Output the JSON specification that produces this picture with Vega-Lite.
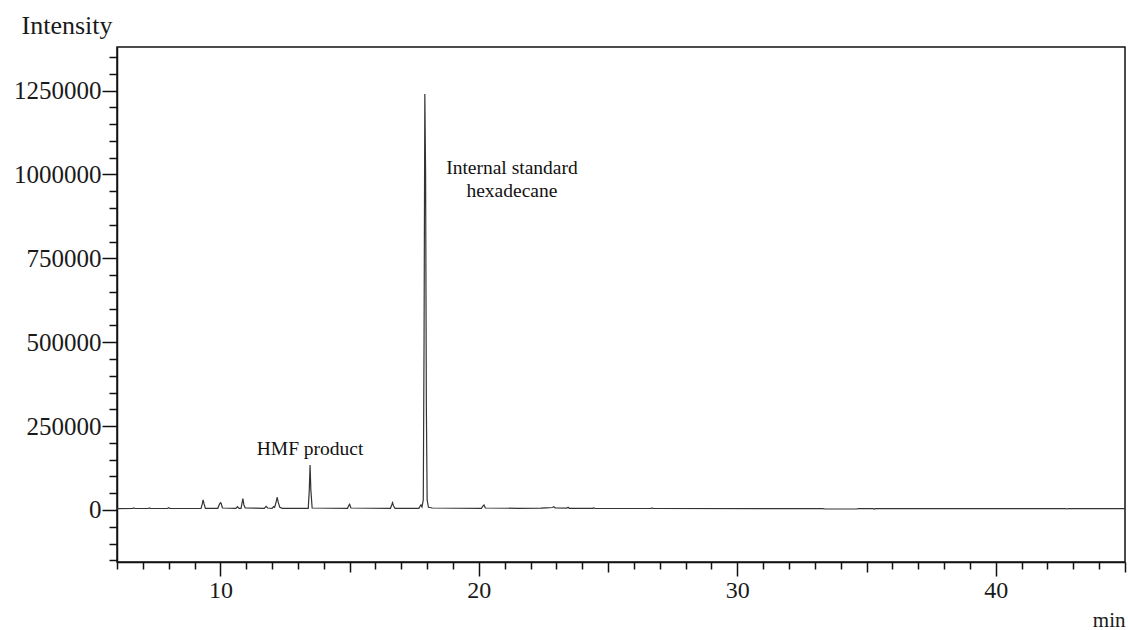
{
  "$schema": "https://vega.github.io/schema/vega-lite/v6.json",
  "width": 1008,
  "height": 515,
  "autosize": {"type": "none"},
  "padding": {"left": 117, "top": 47, "right": 3, "bottom": 68},
  "background": "white",
  "config": {
    "view": {"stroke": "#111", "strokeWidth": 1.5},
    "axis": {"grid": false, "labelFont": "Liberation Serif", "titleFont": "Liberation Serif", "labelColor": "#1a1a1a", "titleColor": "#1a1a1a", "tickColor": "#111", "domainColor": "#111", "domainWidth": 1.5, "tickWidth": 1.5, "titleFontWeight": "normal"}
  },
  "datasets": {
    "chrom": [
      {"t": 6.0, "i": 4000}, {"t": 6.6, "i": 4500}, {"t": 6.65, "i": 6000}, {"t": 6.7, "i": 4500},
      {"t": 7.2, "i": 4500}, {"t": 7.25, "i": 6000}, {"t": 7.3, "i": 4500},
      {"t": 7.95, "i": 4500}, {"t": 8.0, "i": 7000}, {"t": 8.05, "i": 4500},
      {"t": 9.25, "i": 4500}, {"t": 9.3, "i": 18000}, {"t": 9.33, "i": 30000}, {"t": 9.37, "i": 18000}, {"t": 9.42, "i": 5000},
      {"t": 9.9, "i": 5000}, {"t": 9.95, "i": 15000}, {"t": 10.0, "i": 22000}, {"t": 10.03, "i": 20000}, {"t": 10.08, "i": 6000},
      {"t": 10.6, "i": 5000}, {"t": 10.66, "i": 10000}, {"t": 10.72, "i": 5000},
      {"t": 10.8, "i": 5000}, {"t": 10.84, "i": 22000}, {"t": 10.87, "i": 34000}, {"t": 10.91, "i": 15000}, {"t": 10.96, "i": 6000},
      {"t": 11.7, "i": 5000}, {"t": 11.77, "i": 11000}, {"t": 11.83, "i": 6000},
      {"t": 12.0, "i": 5000}, {"t": 12.06, "i": 10000}, {"t": 12.1, "i": 8000}, {"t": 12.16, "i": 25000}, {"t": 12.2, "i": 38000}, {"t": 12.24, "i": 22000}, {"t": 12.3, "i": 8000}, {"t": 12.4, "i": 5000},
      {"t": 13.4, "i": 5000}, {"t": 13.44, "i": 60000}, {"t": 13.47, "i": 134000}, {"t": 13.5, "i": 60000}, {"t": 13.55, "i": 6000},
      {"t": 14.92, "i": 5000}, {"t": 14.97, "i": 14000}, {"t": 15.0, "i": 17000}, {"t": 15.05, "i": 6000},
      {"t": 16.58, "i": 5000}, {"t": 16.63, "i": 15000}, {"t": 16.66, "i": 22000}, {"t": 16.7, "i": 12000}, {"t": 16.76, "i": 5000},
      {"t": 17.68, "i": 5000}, {"t": 17.73, "i": 12000}, {"t": 17.76, "i": 15000}, {"t": 17.8, "i": 9000}, {"t": 17.85, "i": 30000}, {"t": 17.88, "i": 500000}, {"t": 17.91, "i": 1240000}, {"t": 17.94, "i": 1000000}, {"t": 17.97, "i": 300000}, {"t": 18.0, "i": 30000}, {"t": 18.05, "i": 8000}, {"t": 18.2, "i": 6000},
      {"t": 20.1, "i": 5000}, {"t": 20.17, "i": 13000}, {"t": 20.2, "i": 15000}, {"t": 20.25, "i": 6000},
      {"t": 21.5, "i": 5000}, {"t": 22.4, "i": 5500}, {"t": 22.6, "i": 6500}, {"t": 22.85, "i": 7500}, {"t": 22.9, "i": 10000}, {"t": 22.95, "i": 6500},
      {"t": 23.4, "i": 5500}, {"t": 23.45, "i": 8000}, {"t": 23.5, "i": 5000},
      {"t": 24.4, "i": 5000}, {"t": 24.45, "i": 6500}, {"t": 24.5, "i": 4500},
      {"t": 26.65, "i": 4500}, {"t": 26.7, "i": 6000}, {"t": 26.75, "i": 4500},
      {"t": 31.8, "i": 4000}, {"t": 32.0, "i": 4500}, {"t": 33.3, "i": 4000}, {"t": 33.4, "i": 3000}, {"t": 34.6, "i": 3000}, {"t": 34.7, "i": 4000},
      {"t": 35.25, "i": 4000}, {"t": 35.3, "i": 2500}, {"t": 35.35, "i": 4000}, {"t": 37.2, "i": 4000},
      {"t": 42.7, "i": 4000}, {"t": 42.75, "i": 3000}, {"t": 42.8, "i": 4000}, {"t": 45.0, "i": 4000}
    ],
    "notes": [
      {"t": 13.47, "i": 181000, "label": "HMF product"},
      {"t": 21.28, "i": 1018000, "label": "Internal standard"},
      {"t": 21.28, "i": 952000, "label": "hexadecane"}
    ]
  },
  "resolve": {"axis": {"x": "independent", "y": "independent"}},
  "layer": [
    {
      "data": {"name": "chrom"},
      "mark": {"type": "line", "color": "#333", "strokeWidth": 1.2, "clip": true},
      "encoding": {
        "x": {"field": "t", "type": "quantitative",
          "scale": {"domain": [6, 45], "nice": false, "zero": false},
          "axis": {"orient": "bottom", "values": [10, 20, 30, 40], "tickSize": 14, "labelFontSize": 24, "labelPadding": 2,
            "title": "min", "titleFontSize": 21, "titleAnchor": "end", "titleAlign": "right", "titleX": 1008, "titleY": 64, "titleBaseline": "alphabetic"}},
        "y": {"field": "i", "type": "quantitative",
          "scale": {"domain": [-155000, 1380000], "nice": false, "zero": false},
          "axis": {"orient": "left", "values": [0, 250000, 500000, 750000, 1000000, 1250000], "format": "d", "tickSize": 15, "labelFontSize": 25, "labelPadding": 1,
            "title": "Intensity", "titleFontSize": 26, "titleAngle": 0, "titleAlign": "left", "titleX": -96, "titleY": -14, "titleBaseline": "alphabetic"}}
      }
    },
    {
      "data": {"name": "chrom"},
      "mark": {"type": "line", "strokeOpacity": 0},
      "encoding": {
        "x": {"field": "t", "type": "quantitative",
          "axis": {"orient": "bottom", "values": [6,7,8,9,11,12,13,14,16,17,18,19,21,22,23,24,26,27,28,29,31,32,33,34,36,37,38,39,41,42,43,44], "tickSize": 7, "labels": false, "domain": false, "title": null}},
        "y": {"field": "i", "type": "quantitative",
          "axis": {"orient": "left", "values": [-150000,-100000,-50000,50000,100000,150000,200000,300000,350000,400000,450000,550000,600000,650000,700000,800000,850000,900000,950000,1050000,1100000,1150000,1200000,1300000,1350000], "tickSize": 8, "labels": false, "domain": false, "title": null}}
      }
    },
    {
      "data": {"name": "notes"},
      "mark": {"type": "text", "font": "Liberation Serif", "fontSize": 19.5, "color": "#111", "baseline": "middle", "align": "center"},
      "encoding": {
        "x": {"field": "t", "type": "quantitative",
          "axis": {"orient": "bottom", "values": [15, 25, 35, 45], "tickSize": 10, "labels": false, "domain": false, "title": null}},
        "y": {"field": "i", "type": "quantitative", "axis": null},
        "text": {"field": "label"}
      }
    }
  ]
}
